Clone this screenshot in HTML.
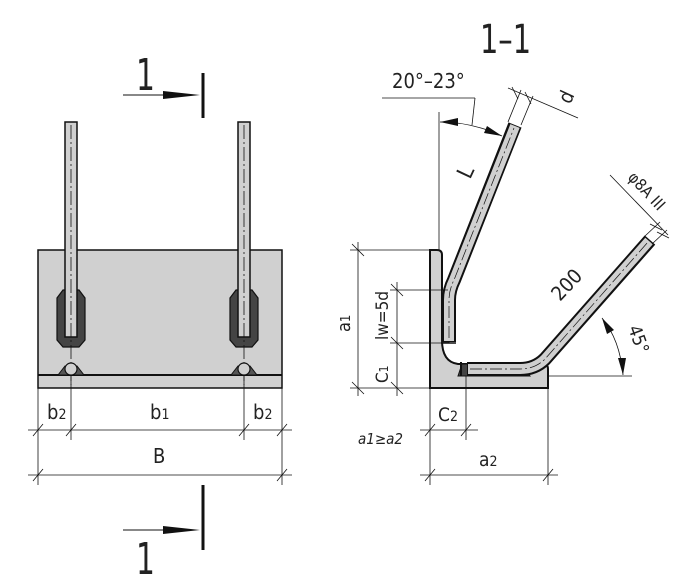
<!DOCTYPE html>
<html><head><meta charset="utf-8"><style>
html,body{margin:0;padding:0;background:#fff;}
svg{display:block;}
text{font-family:"Liberation Sans Narrow","DejaVu Sans Condensed","Liberation Sans",sans-serif;fill:#222;}
</style></head><body>
<svg width="696" height="579" viewBox="0 0 696 579" xmlns="http://www.w3.org/2000/svg">
<g stroke="#111" fill="none">
<!-- LEFT VIEW -->
<rect x="38" y="250" width="244" height="138" fill="#d0d0d0" stroke-width="1.5"/>
<line x1="38" y1="375" x2="282" y2="375" stroke-width="2"/>
<path d="M63,290 L79,290 L85,298 L85,340 L79,347 L63,347 L57,340 L57,298 Z" fill="#444" stroke-width="1.2"/>
<path d="M236,290 L252,290 L258,298 L258,340 L252,347 L236,347 L230,340 L230,298 Z" fill="#444" stroke-width="1.2"/>
<rect x="65" y="122" width="12" height="215" fill="#d0d0d0" stroke-width="1.5"/>
<rect x="238" y="122" width="12" height="215" fill="#d0d0d0" stroke-width="1.5"/>
<line x1="71" y1="125" x2="71" y2="385" stroke-width="0.8" stroke-dasharray="14,3,2,3"/>
<line x1="244" y1="125" x2="244" y2="385" stroke-width="0.8" stroke-dasharray="14,3,2,3"/>
<path d="M58,375 L65,366 L77,366 L84,375 Z" fill="#555" stroke-width="1"/>
<circle cx="71" cy="369" r="6" fill="#d0d0d0" stroke-width="1.2"/>
<path d="M231,375 L238,366 L250,366 L257,375 Z" fill="#555" stroke-width="1"/>
<circle cx="244" cy="369" r="6" fill="#d0d0d0" stroke-width="1.2"/>
<g stroke-width="0.8">
<line x1="38" y1="388" x2="38" y2="485"/>
<line x1="71" y1="375" x2="71" y2="440"/>
<line x1="244" y1="375" x2="244" y2="440"/>
<line x1="282" y1="388" x2="282" y2="485"/>
<line x1="28" y1="430" x2="292" y2="430"/>
<line x1="28" y1="475" x2="292" y2="475"/>
<path d="M33,436 L43,424 M66,436 L76,424 M239,436 L249,424 M277,436 L287,424 M33,481 L43,469 M277,481 L287,469"/>
</g>
<line x1="203" y1="73" x2="203" y2="118" stroke-width="3"/>
<line x1="123" y1="95" x2="180" y2="95" stroke-width="1"/>
<path d="M163,91 L200,95 L163,99 Z" fill="#111" stroke="none"/>
<line x1="203" y1="485" x2="203" y2="550" stroke-width="3"/>
<line x1="123" y1="530" x2="180" y2="530" stroke-width="1"/>
<path d="M163,526 L200,530 L163,534 Z" fill="#111" stroke="none"/>

<!-- RIGHT VIEW angle -->
<path d="M430,250 L437,250 Q442,250 442,255 L442,340 Q442,362 458,364 L543,364 Q548,364 548,369 L548,388 L430,388 Z" fill="#d0d0d0" stroke-width="2"/>
<path d="M462,364 L520,364 L530,376 L458,376 Z" fill="#444" stroke-width="1"/>
<path d="M467,369 L520,369 Q535,369 545,359 L650,240" stroke="#111" stroke-width="14" stroke-linejoin="round"/>
<path d="M468,369 L520,369 Q535,369 545,359 L649,241" stroke="#d0d0d0" stroke-width="10"/>
<path d="M470,369 L520,369 Q535,369 545,359 L648,242" stroke="#111" stroke-width="0.7" stroke-dasharray="12,3,2,3"/>
<line x1="461" y1="362" x2="461" y2="376" stroke-width="2"/>
<rect x="442" y="290" width="7" height="53" fill="#444" stroke-width="1"/>
<path d="M449,342 L449,300 Q449,290 454,280 L515,125" stroke="#111" stroke-width="14"/>
<path d="M449,341 L449,300 Q449,290 454,280 L515,126" stroke="#d0d0d0" stroke-width="10"/>
<path d="M449,338 L449,300 Q449,290 454,280 L514,128" stroke="#111" stroke-width="0.7" stroke-dasharray="12,3,2,3"/>
<line x1="441" y1="343" x2="456" y2="343" stroke-width="1.5"/>
<g stroke-width="0.8">
<line x1="350" y1="250" x2="430" y2="250"/>
<line x1="358" y1="242" x2="358" y2="396"/>
<line x1="350" y1="388" x2="430" y2="388"/>
<line x1="390" y1="290" x2="448" y2="290"/>
<line x1="390" y1="343" x2="448" y2="343"/>
<line x1="397" y1="282" x2="397" y2="396"/>
<path d="M352,244 L364,256 M352,382 L364,394 M391,284 L403,296 M391,337 L403,349 M391,382 L403,394"/>
<line x1="430" y1="388" x2="430" y2="485"/>
<line x1="466" y1="376" x2="466" y2="440"/>
<line x1="548" y1="388" x2="548" y2="485"/>
<line x1="420" y1="430" x2="478" y2="430"/>
<line x1="420" y1="475" x2="558" y2="475"/>
<path d="M425,436 L435,424 M461,436 L471,424 M425,481 L435,469 M543,481 L553,469"/>
<line x1="439" y1="112" x2="439" y2="250"/>
<line x1="382" y1="98" x2="475" y2="98"/>
<line x1="475" y1="98" x2="472" y2="125"/>
<path d="M440,122 Q472,122 502,136"/>
<line x1="508" y1="122" x2="521" y2="90"/>
<line x1="521" y1="125" x2="533" y2="96"/>
<line x1="508" y1="88" x2="578" y2="118"/>
<path d="M512,87 L518,99 M525,92 L531,104"/>
<line x1="610" y1="175" x2="668" y2="235"/>
<line x1="645" y1="236" x2="660" y2="222"/>
<line x1="652" y1="244" x2="667" y2="230"/>
<path d="M650,224 L662,230 M657,232 L669,238"/>
<line x1="548" y1="376" x2="632" y2="376"/>
<path d="M602,318 Q620,340 623,375"/>
</g>
<path d="M440,122 L458,118 L458,126 Z" fill="#111" stroke="none"/>
<path d="M502,136 L484,133 L487,126 Z" fill="#111" stroke="none"/>
<path d="M602,318 L614,330 L607,334 Z" fill="#111" stroke="none"/>
<path d="M623,375 L618,358 L626,358 Z" fill="#111" stroke="none"/>
</g>
<text x="0" y="0" font-size="44" transform="translate(136,90) scale(0.75,1)">1</text>
<text x="0" y="0" font-size="44" transform="translate(136,574) scale(0.75,1)">1</text>
<text x="0" y="0" font-size="40" transform="translate(480,53) scale(0.8,1)">1–1</text>
<text x="47" y="419" font-size="20">b<tspan font-size="14">2</tspan></text>
<text x="150" y="419" font-size="20">b<tspan font-size="14">1</tspan></text>
<text x="253" y="419" font-size="20">b<tspan font-size="14">2</tspan></text>
<text x="153" y="463" font-size="20">B</text>
<text x="392" y="88" font-size="20">20°–23°</text>
<text x="0" y="0" font-size="20" transform="translate(570,105) rotate(-65)">d</text>
<text x="0" y="0" font-size="22" transform="translate(470,180) rotate(-65)">L</text>
<text x="0" y="0" font-size="16" transform="translate(627,178) rotate(47)">φ8A III</text>
<text x="0" y="0" font-size="20" transform="translate(560,302) rotate(-47)">200</text>
<text x="0" y="0" font-size="18" transform="translate(628,328) rotate(70)">45°</text>
<text x="0" y="0" font-size="18" transform="translate(350,332) rotate(-90)">a<tspan font-size="13">1</tspan></text>
<text x="0" y="0" font-size="17" transform="translate(388,340) rotate(-90)">lw=5d</text>
<text x="0" y="0" font-size="17" transform="translate(388,383) rotate(-90)">C<tspan font-size="12">1</tspan></text>
<text x="438" y="421" font-size="19">C<tspan font-size="14">2</tspan></text>
<text x="479" y="466" font-size="19">a<tspan font-size="14">2</tspan></text>
<text x="358" y="444" font-size="15" font-style="italic">a1≥a2</text>
</svg>
</body></html>
